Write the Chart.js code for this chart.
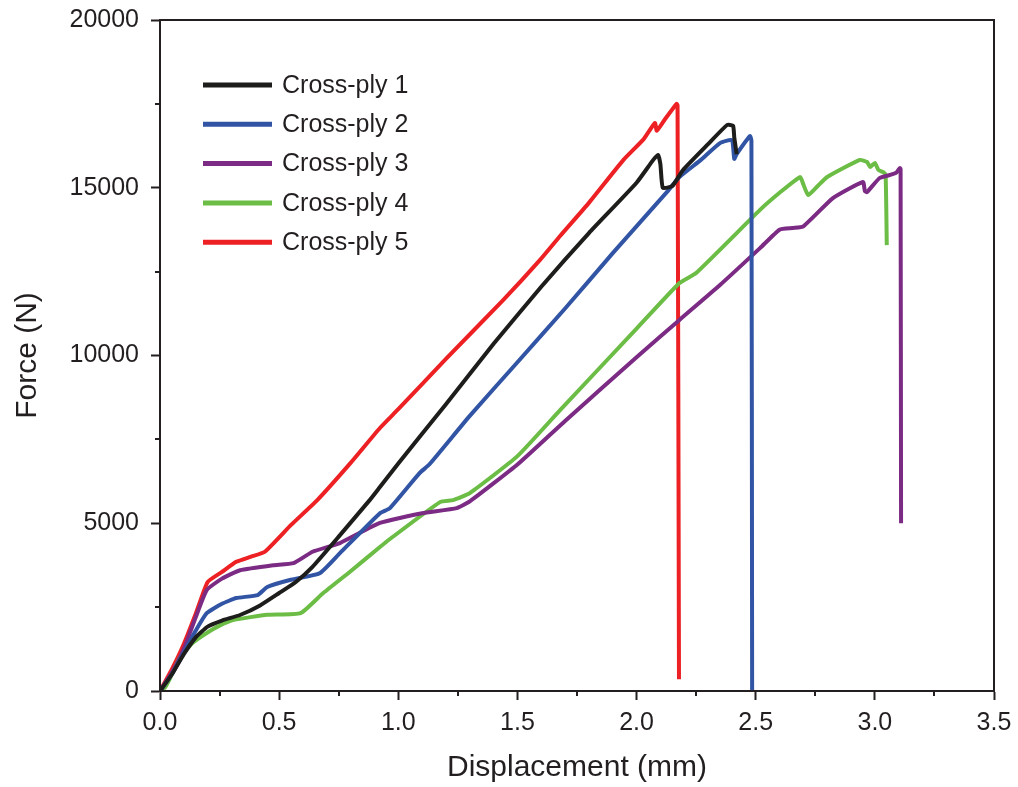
<!DOCTYPE html>
<html>
<head>
<meta charset="utf-8">
<title>Force vs displacement</title>
<script src="https://cdn.jsdelivr.net/npm/chart.js@4.4.1/dist/chart.umd.min.js"></script>
<style>
  html, body { margin: 0; padding: 0; background: #fff; }
  #wrap { position: relative; width: 1018px; height: 787px; }
</style>
</head>
<body>
<div id="wrap"><canvas id="forceChart" width="1018" height="787"></canvas></div>
<script>
// Load-displacement curves, displacement in mm, force in N
const seriesNames = ['Cross-ply 1', 'Cross-ply 2', 'Cross-ply 3', 'Cross-ply 4', 'Cross-ply 5'];
const seriesColors = ['#1d1d1b', '#3155a4', '#7b2b83', '#6cbd45', '#ed2024'];

const ply1Disp  = [0, 0.05, 0.1, 0.15, 0.2, 0.26, 0.336, 0.42, 0.5, 0.57, 0.64, 0.75, 0.88, 0.923, 1.0, 1.2, 1.4, 1.6, 1.8, 2.0, 2.07, 2.09, 2.1, 2.11, 2.15, 2.195, 2.3, 2.38, 2.405, 2.41, 2.42];
const ply1Force = [0, 500, 1100, 1600, 1920, 2100, 2265, 2550, 2920, 3250, 3700, 4600, 5690, 6080, 6780, 8550, 10350, 12050, 13650, 15150, 15830, 15980, 15700, 15000, 15050, 15530, 16300, 16870, 16850, 16500, 16000];

const ply2Disp  = [0, 0.05, 0.1, 0.15, 0.196, 0.26, 0.32, 0.41, 0.45, 0.545, 0.67, 0.755, 0.923, 0.965, 1.09, 1.13, 1.3, 1.5, 1.7, 1.9, 2.127, 2.18, 2.27, 2.35, 2.40, 2.41, 2.42, 2.476, 2.482, 2.485];
const ply2Force = [0, 500, 1150, 1800, 2320, 2600, 2770, 2860, 3100, 3310, 3510, 4110, 5300, 5450, 6500, 6750, 8200, 9800, 11400, 13050, 14870, 15320, 15830, 16330, 16420, 15860, 16000, 16540, 16400, 0];

const ply3Disp  = [0, 0.05, 0.098, 0.15, 0.196, 0.26, 0.336, 0.475, 0.56, 0.64, 0.755, 0.923, 1.10, 1.245, 1.3, 1.5, 1.7, 2.0, 2.18, 2.35, 2.518, 2.6, 2.656, 2.7, 2.824, 2.95, 2.958, 2.967, 3.02, 3.063, 3.09, 3.105, 3.108, 3.11];
const ply3Force = [0, 550, 1220, 2200, 3010, 3350, 3600, 3750, 3810, 4150, 4410, 5010, 5300, 5450, 5650, 6750, 8050, 9950, 11060, 12100, 13200, 13750, 13800, 13850, 14690, 15170, 14900, 14870, 15290, 15380, 15450, 15590, 15550, 5000];

const ply4Disp  = [0, 0.02, 0.04, 0.084, 0.14, 0.196, 0.25, 0.31, 0.45, 0.59, 0.685, 0.8, 0.923, 0.965, 1.175, 1.23, 1.3, 1.5, 1.68, 2.0, 2.18, 2.25, 2.518, 2.6, 2.686, 2.70, 2.72, 2.76, 2.80, 2.937, 2.967, 2.98, 3.0, 3.015, 3.034, 3.045, 3.05];
const ply4Force = [0, 100, 350, 1010, 1450, 1730, 1950, 2120, 2270, 2320, 2920, 3570, 4290, 4530, 5630, 5690, 5900, 7000, 8380, 10800, 12160, 12460, 14340, 14850, 15320, 15100, 14780, 15050, 15320, 15830, 15770, 15620, 15740, 15530, 15470, 15400, 13290];

const ply5Disp  = [0, 0.05, 0.1, 0.15, 0.2, 0.26, 0.32, 0.38, 0.44, 0.55, 0.66, 0.8, 0.923, 1.0, 1.2, 1.44, 1.595, 1.68, 1.8, 1.945, 2.03, 2.077, 2.085, 2.12, 2.168, 2.172, 2.178];
const ply5Force = [0, 650, 1400, 2300, 3250, 3550, 3850, 4000, 4150, 4950, 5690, 6800, 7840, 8400, 9900, 11650, 12850, 13570, 14550, 15830, 16450, 16930, 16700, 17050, 17500, 17450, 350];

const xTicks = [0, 0.5, 1.0, 1.5, 2.0, 2.5, 3.0, 3.5];
const yTicks = [0, 5000, 10000, 15000, 20000];

const dispSets  = [ply1Disp, ply2Disp, ply3Disp, ply4Disp, ply5Disp];
const forceSets = [ply1Force, ply2Force, ply3Force, ply4Force, ply5Force];

const INK = '#231f20';
const FONT = "'Liberation Sans', Arial, sans-serif";

const datasets = seriesNames.map((name, i) => ({
  label: name,
  data: dispSets[i].map((x, k) => ({ x, y: forceSets[i][k] })),
  borderColor: seriesColors[i],
  backgroundColor: seriesColors[i],
  borderWidth: 4,
  pointRadius: 0,
  tension: 0.15,
  fill: false,
}));

// box frame, minor ticks and the in-plot legend
const framePlugin = {
  id: 'frame',
  afterDraw(chart) {
    const { ctx, chartArea: a, scales } = chart;
    ctx.save();
    ctx.strokeStyle = INK;
    ctx.lineWidth = 2;
    ctx.strokeRect(a.left, a.top, a.right - a.left, a.bottom - a.top);

    ctx.beginPath();
    for (let v = 0.25; v < 3.5; v += 0.5) {
      const px = Math.round(scales.x.getPixelForValue(v));
      ctx.moveTo(px, a.bottom);
      ctx.lineTo(px, a.bottom + 5);
    }
    for (let v = 2500; v < 20000; v += 5000) {
      const py = Math.round(scales.y.getPixelForValue(v));
      ctx.moveTo(a.left, py);
      ctx.lineTo(a.left - 5, py);
    }
    ctx.stroke();

    const lx = a.left + 43, ly = a.top + 65, gap = 39.3;
    ctx.font = '25px ' + FONT;
    ctx.textBaseline = 'middle';
    ctx.fillStyle = INK;
    chart.data.datasets.forEach((ds, i) => {
      const y = ly + i * gap;
      ctx.strokeStyle = ds.borderColor;
      ctx.lineWidth = 5;
      ctx.beginPath();
      ctx.moveTo(lx, y);
      ctx.lineTo(lx + 69, y);
      ctx.stroke();
      ctx.fillText(ds.label, lx + 79, y + 1);
    });
    ctx.restore();
  }
};

new Chart(document.getElementById('forceChart'), {
  type: 'line',
  data: { datasets },
  options: {
    responsive: false,
    animation: false,
    devicePixelRatio: 1,
    layout: { padding: { top: 20, right: 24, left: 0, bottom: 0 } },
    plugins: {
      legend: { display: false },
      tooltip: { enabled: false },
    },
    scales: {
      x: {
        type: 'linear',
        min: 0,
        max: 3.5,
        afterFit: s => { s.height = 96; s.paddingLeft = 0; s.paddingRight = 0; },
        afterBuildTicks: s => { s.ticks = xTicks.map(v => ({ value: v })); },
        ticks: {
          color: INK,
          font: { size: 25, family: FONT },
          padding: 8,
          maxRotation: 0,
          callback: v => v.toFixed(1),
        },
        grid: { drawOnChartArea: false, tickLength: 9, tickWidth: 2, tickColor: INK },
        border: { display: true, color: INK, width: 2 },
        title: {
          display: true,
          text: 'Displacement (mm)',
          color: INK,
          font: { size: 30, family: FONT },
          padding: { top: 0, bottom: 1 },
        },
      },
      y: {
        min: 0,
        max: 20000,
        afterFit: s => { s.width = 160; s.paddingTop = 0; s.paddingBottom = 0; },
        afterBuildTicks: s => { s.ticks = yTicks.map(v => ({ value: v })); },
        ticks: {
          color: INK,
          font: { size: 25, family: FONT },
          padding: 12,
          callback: v => String(v),
        },
        grid: { drawOnChartArea: false, tickLength: 9, tickWidth: 2, tickColor: INK },
        border: { display: true, color: INK, width: 2 },
        title: {
          display: true,
          text: 'Force (N)',
          color: INK,
          font: { size: 30, family: FONT },
          padding: { top: 10, bottom: 0 },
        },
      },
    },
  },
  plugins: [framePlugin],
});
</script>
</body>
</html>
